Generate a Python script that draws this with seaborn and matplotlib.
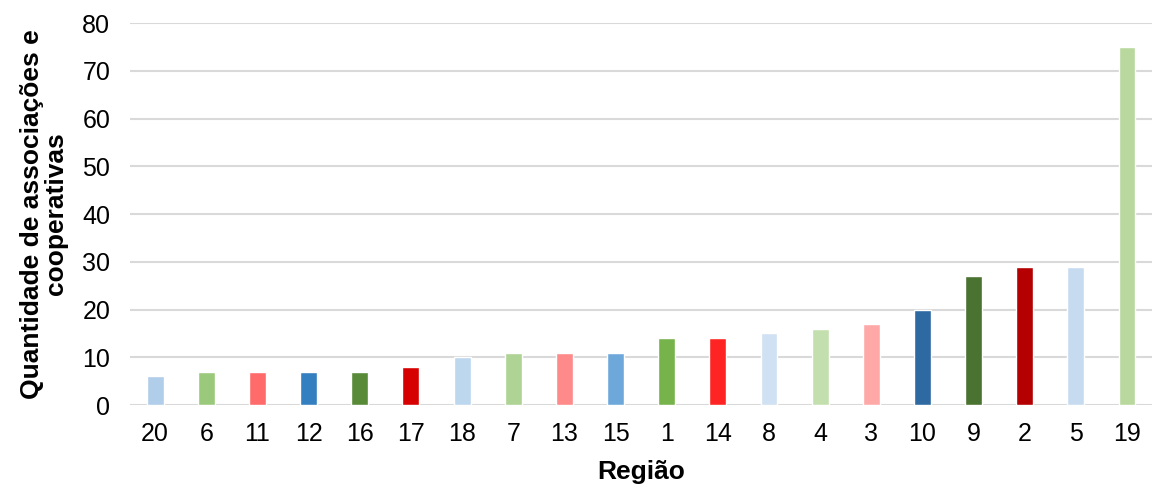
import matplotlib
matplotlib.use("Agg")
import matplotlib.pyplot as plt
import seaborn as sns
import pandas as pd

regions = ["20", "6", "11", "12", "16", "17", "18", "7", "13", "15",
           "1", "14", "8", "4", "3", "10", "9", "2", "5", "19"]
counts = [6, 7, 7, 7, 7, 8, 10, 11, 11, 11,
          14, 14, 15, 16, 17, 20, 27, 29, 29, 75]
colors = ["#b0cde9", "#9bc97b", "#ff6b6b", "#337fc0", "#588a37", "#d60000",
          "#bdd7ee", "#aed394", "#ff8a8a", "#6ea8da", "#77b34b", "#ff2424",
          "#cfe1f2", "#c4dfae", "#ffa8a8", "#2e69a1", "#4a7230", "#b40000",
          "#c6dbef", "#b8d89e"]
y_ticks = [0, 10, 20, 30, 40, 50, 60, 70, 80]

sns.set_theme(style="white")
plt.rcParams["font.family"] = ["Liberation Sans", "DejaVu Sans"]

df = pd.DataFrame({"Região": regions, "Quantidade": counts})

fig = plt.figure(figsize=(11.52, 4.91), dpi=100)
ax = fig.add_axes([0.1125, 0.175, 0.888, 0.778])

sns.barplot(data=df, x="Região", y="Quantidade", hue="Região",
            palette=dict(zip(regions, colors)), order=regions,
            width=0.33, legend=False, saturation=1, ax=ax, zorder=3)

ax.set_ylim(0, 80)
ax.set_yticks(y_ticks)
ax.yaxis.grid(True, color="#d9d9d9", linewidth=1.5, zorder=0)
ax.set_axisbelow(True)
for s in ax.spines.values():
    s.set_visible(False)
ax.tick_params(axis="both", length=0, labelsize=18, colors="black")
ax.tick_params(axis="x", pad=12)
ax.tick_params(axis="y", pad=14)

ax.set_xlabel("Região", fontsize=19, fontweight="bold", labelpad=10,
              color="black")
ax.set_ylabel("Quantidade de associações e\ncooperativas", fontsize=19,
              fontweight="bold", labelpad=10, linespacing=1.0, color="black")

fig.savefig("out.png", dpi=100, facecolor="white")
